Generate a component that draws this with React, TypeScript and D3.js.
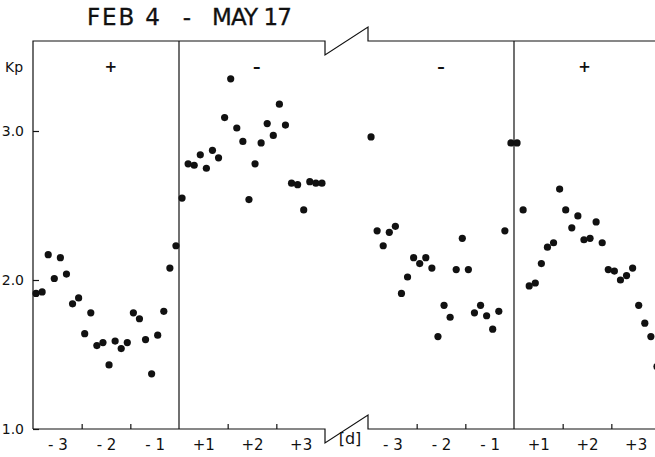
import React, { useEffect, useRef } from 'react';
import * as d3 from 'd3';

// 3-hourly mean Kp, 8 values per day
// first epoch: days -3..0 (+ sector) and 0..+3 (- sector)
const epochA_before = [1.91, 1.92, 2.17, 2.01, 2.15, 2.04, 1.84, 1.88, 1.64, 1.78, 1.56, 1.58, 1.43, 1.59, 1.54, 1.58, 1.78, 1.74, 1.60, 1.37, 1.63, 1.79, 2.08, 2.23];
const epochA_after = [2.55, 2.78, 2.77, 2.84, 2.75, 2.87, 2.82, 3.09, 3.35, 3.02, 2.93, 2.54, 2.78, 2.92, 3.05, 2.97, 3.18, 3.04, 2.65, 2.64, 2.47, 2.66, 2.65, 2.65];
// second epoch: days -3..0 (- sector) and 0..+3 (+ sector)
const epochB_before = [2.96, 2.33, 2.23, 2.32, 2.36, 1.91, 2.02, 2.15, 2.11, 2.15, 2.08, 1.62, 1.83, 1.75, 2.07, 2.28, 2.07, 1.78, 1.83, 1.76, 1.67, 1.79, 2.33, 2.92];
const epochB_after = [2.92, 2.47, 1.96, 1.98, 2.11, 2.22, 2.25, 2.61, 2.47, 2.35, 2.43, 2.27, 2.28, 2.39, 2.25, 2.07, 2.06, 2.00, 2.03, 2.08, 1.83, 1.71, 1.62, 1.42];

const sectorLabels = ["+", "\u2013", "\u2013", "+"];
const dayTicks = [-2, -1, 1, 2];
const dayLabelPos = [-2.5, -1.5, -0.5, 0.5, 1.5, 2.5];
const dayLabels = ["- 3", "- 2", "- 1", "+1", "+2", "+3"];
const kpTicks = [1, 2, 3];

const W = 655, H = 457;
const FONT = "DejaVu Sans, sans-serif";
const INK = "#111";

export default function App() {
  const ref = useRef<SVGSVGElement>(null);

  useEffect(() => {
    const svg = d3.select(ref.current);
    svg.selectAll("*").remove();

    const y = d3.scaleLinear().domain([1, 3]).range([429, 131]);
    const xa = d3.scaleLinear().domain([-3, 3]).range([33, 325]);
    const xb = d3.scaleLinear().domain([-3, 3]).range([368, 660]);
    const top = 41, bottom = y(1), brk = 14;

    // title
    const title = svg.append("g").attr("font-family", FONT).attr("font-size", 23).attr("fill", INK)
      .attr("stroke", INK).attr("stroke-width", 0.3);
    title.append("text").attr("x", 87).attr("y", 25).attr("textLength", 73).text("FEB 4");
    title.append("text").attr("x", 187).attr("y", 25).attr("text-anchor", "middle").text("-");
    title.append("text").attr("x", 212).attr("y", 25).attr("textLength", 80).text("MAY 17");

    // frame with axis break
    const line = d3.line<[number, number]>();
    const frame = svg.append("g").attr("fill", "none").attr("stroke", INK).attr("stroke-width", 1.2);
    frame.append("path").attr("d", line([
      [xa(-3), bottom], [xa(-3), top], [xa(3), top], [xa(3), top + brk],
      [xb(-3), top - brk], [xb(-3), top], [W + 5, top]
    ]));
    frame.append("path").attr("d", line([
      [xa(-3), bottom], [xa(3), bottom], [xa(3), bottom + brk],
      [xb(-3), bottom - brk], [xb(-3), bottom], [W + 5, bottom]
    ]));
    [xa(0), xb(0)].forEach(x0 => {
      frame.append("line").attr("x1", x0).attr("x2", x0).attr("y1", top).attr("y2", bottom);
    });

    // y axis
    const yAxis = svg.append("g")
      .attr("transform", `translate(${xa(-3)},0)`)
      .call(d3.axisLeft(y).tickValues(kpTicks).tickFormat(d3.format(".1f")).tickSizeInner(-6).tickSizeOuter(0).tickPadding(9));
    yAxis.select(".domain").remove();
    yAxis.attr("font-family", FONT).attr("font-size", 14);
    yAxis.selectAll("line").attr("stroke", INK).attr("stroke-width", 1.2);
    yAxis.selectAll("text").attr("fill", INK);

    svg.append("text").attr("x", 5).attr("y", 72).attr("font-family", FONT).attr("font-size", 14)
      .attr("fill", INK).text("Kp");

    // x axes for both epochs
    [xa, xb].forEach(x => {
      const t = svg.append("g").attr("transform", `translate(0,${bottom})`)
        .call(d3.axisBottom(x).tickValues(dayTicks).tickSizeInner(-5).tickSizeOuter(0).tickFormat(() => ""));
      t.select(".domain").remove();
      t.selectAll("line").attr("stroke", INK).attr("stroke-width", 1.2);

      const l = svg.append("g").attr("transform", `translate(0,${bottom})`)
        .call(d3.axisBottom(x).tickValues(dayLabelPos).tickSize(0).tickPadding(10)
          .tickFormat((d, i) => dayLabels[i]));
      l.select(".domain").remove();
      l.attr("font-family", FONT).attr("font-size", 15);
      l.selectAll("text").attr("fill", INK);
    });

    svg.append("text").attr("x", 350).attr("y", 444).attr("text-anchor", "middle")
      .attr("font-family", FONT).attr("font-size", 16).attr("fill", INK).text("[d]");

    // sector labels
    const sectorX = [xa(-1.4), xa(1.6), xb(-1.5), xb(1.45)];
    sectorX.forEach((sx, i) => {
      svg.append("text").attr("x", sx).attr("y", 72).attr("text-anchor", "middle")
        .attr("font-family", FONT).attr("font-size", 15).attr("font-weight", "bold")
        .attr("fill", INK).text(sectorLabels[i]);
    });

    // points
    const panels: [d3.ScaleLinear<number, number>, number, number[]][] = [
      [xa, -3, epochA_before], [xa, 0, epochA_after],
      [xb, -3, epochB_before], [xb, 0, epochB_after]
    ];
    panels.forEach(([x, start, vals]) => {
      svg.append("g").selectAll("circle")
        .data(vals)
        .enter()
        .append("circle")
        .attr("cx", (d, i) => x(start + (i + 0.5) / 8))
        .attr("cy", d => y(d))
        .attr("r", 3.6)
        .attr("fill", INK);
    });
  }, []);

  return <svg ref={ref} width={W} height={H} style={{ position: "absolute", left: 0, top: 0, background: "#fff" }} />;
}
